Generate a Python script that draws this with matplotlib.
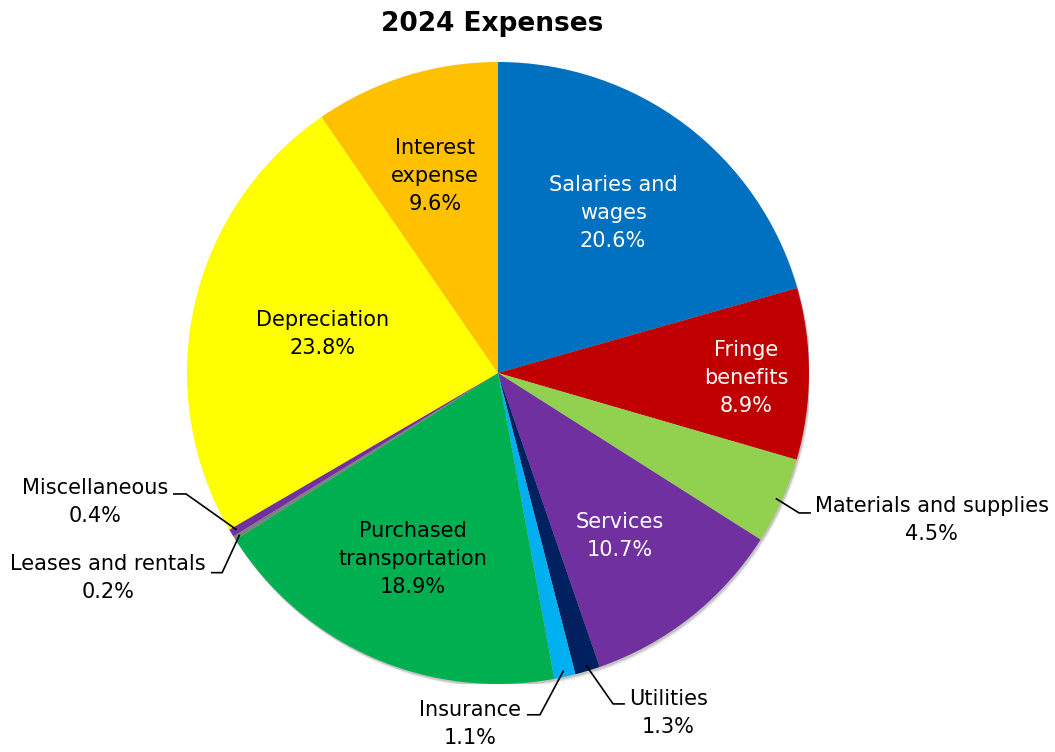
import numpy as np
import matplotlib
matplotlib.use('Agg')
import matplotlib.pyplot as plt
from matplotlib.patches import Circle

plt.rcParams['font.family'] = ['DejaVu Sans']

# 2024 expense breakdown, clockwise from 12 o'clock
labels = ['Salaries and\nwages', 'Fringe\nbenefits', 'Materials and supplies', 'Services',
          'Utilities', 'Insurance', 'Purchased\ntransportation', 'Leases and rentals',
          'Miscellaneous', 'Depreciation', 'Interest\nexpense']
values = [20.6, 8.9, 4.5, 10.7, 1.3, 1.1, 18.9, 0.2, 0.4, 23.8, 9.6]
colors = ['#0070C0', '#C00000', '#92D050', '#7030A0', '#002060', '#00B0F0',
          '#00B050', '#808080', '#7030A0', '#FFFF00', '#FFC000']
text_colors = ['white', 'white', 'black', 'white', 'black', 'black',
               'black', 'black', 'black', 'black', 'black']

fig = plt.figure(figsize=(10.55, 7.52), dpi=100)
cx, cy, r = 498 / 1055, 1 - 373 / 752, 311
ax = fig.add_axes([cx - r / 1055, cy - r / 752, 2 * r / 1055, 2 * r / 752])
ax.axis('off')

# soft drop shadow under the pie
for k, a in [(4, 0.05), (3, 0.08), (2, 0.12)]:
    ax.add_patch(Circle((k * 0.6 / r, -k / r), 1, color='black', alpha=a,
                        lw=0, zorder=0))

wedges, _ = ax.pie(values, colors=colors, startangle=90, counterclock=False,
                   radius=1, wedgeprops=dict(linewidth=0))
ax.set_xlim(-1, 1)
ax.set_ylim(-1, 1)

fs = 15
ls = 1.5
# inside labels: (x, y) in data units
inside = {0: (0.37, 0.514), 1: (0.797, -0.016), 3: (0.392, -0.524),
          6: (-0.273, -0.598), 9: (-0.563, 0.125), 10: (-0.203, 0.633)}
# outside labels: text centre, elbow point, end of the horizontal stub
outside = {
    2: dict(text=(1.395, -0.473), elbow=(0.968, -0.450), end=(1.006, -0.450)),
    4: dict(text=(0.547, -1.093), elbow=(0.370, -1.064), end=(0.408, -1.064)),
    5: dict(text=(-0.09, -1.13), elbow=(0.135, -1.099), end=(0.093, -1.099)),
    7: dict(text=(-1.254, -0.66), elbow=(-0.887, -0.642), end=(-0.923, -0.642)),
    8: dict(text=(-1.296, -0.415), elbow=(-1.003, -0.389), end=(-1.045, -0.389)),
}

for i, (w, v) in enumerate(zip(wedges, values)):
    txt = f'{labels[i]}\n{v:.1f}%'
    if i in inside:
        x, y = inside[i]
        ax.text(x, y, txt, ha='center', va='center', fontsize=fs,
                color=text_colors[i], linespacing=ls)
    else:
        o = outside[i]
        mid = np.deg2rad((w.theta1 + w.theta2) / 2)
        px, py = 0.98 * np.cos(mid), 0.98 * np.sin(mid)
        ex, ey = o['elbow']
        hx, hy = o['end']
        ax.plot([px, ex, hx], [py, ey, hy], color='black', lw=1.2,
                clip_on=False, solid_capstyle='butt')
        tx, ty = o['text']
        ax.text(tx, ty, txt, ha='center', va='center', fontsize=fs,
                linespacing=ls, clip_on=False)

fig.text(492 / 1055, 1 - 24 / 752, '2024 Expenses', ha='center', va='center',
         fontsize=19, fontweight='bold')

fig.savefig('out.png', dpi=100)
